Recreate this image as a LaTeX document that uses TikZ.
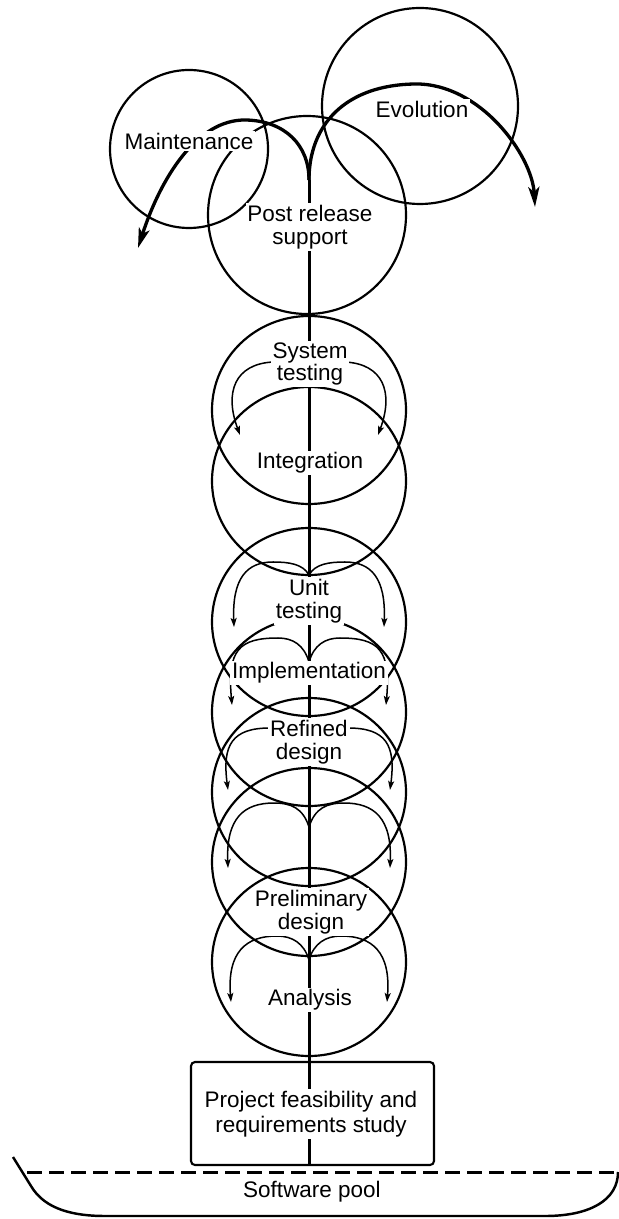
\documentclass[tikz,border=0pt]{standalone}
\usepackage{fontspec}
\setmainfont{Liberation Sans}
\usetikzlibrary{arrows.meta}

\begin{document}
\begin{tikzpicture}[
  ring/.style={line width=0.62pt},
  trunk/.style={line width=0.85pt},
  swing/.style={line width=0.94pt, -{Stealth[length=0.2cm,width=0.11cm,inset=0.05cm]}},
  flow/.style={line width=0.43pt, -{Stealth[length=0.09cm,width=0.06cm,inset=0.02cm]}},
  lbl/.style={font=\fontsize{6.4}{6.5}\selectfont, align=center, fill=white, inner sep=0.5pt},
]
\useasboundingbox (0,0) rectangle (6.19,-12.19);

%%% circles
\draw[ring] (1.89,-1.49) circle (0.79);
\draw[ring] (4.20,-1.06) circle (0.98);
\draw[ring] (3.07,-2.15) circle (0.99);
\foreach \y in {4.10,4.81,6.22,7.12,7.92,8.62,9.62}
  \draw[ring] (3.09,-\y) ellipse [x radius=0.97, y radius=0.94];

%% trunk
\coordinate (fork) at (3.09,-1.80);
\coordinate (base) at (3.09,-11.65);
\draw[trunk] (fork) -- (base);

%% top arrows
\draw[swing] (fork) .. controls (3.09,-1.45) and (2.85,-1.21) .. (2.46,-1.20)
  .. controls (1.96,-1.19) and (1.60,-1.80) .. (1.38,-2.48);
\draw[swing] (fork) .. controls (3.09,-1.25) and (3.45,-0.85) .. (4.15,-0.84)
  .. controls (4.80,-0.83) and (5.32,-1.55) .. (5.35,-2.07);

%% hearts and side arrows
\foreach \s in {1,-1} {
  \draw[flow, shift={(3.09,0)}, xscale=\s] (-0.36,-3.62) .. controls (-0.74,-3.64) and (-0.85,-3.92) .. (-0.69,-4.35);
  \draw[flow, shift={(3.09,0)}, xscale=\s] (0,-5.75) .. controls (-0.06,-5.64) and (-0.20,-5.62) .. (-0.36,-5.62)
    .. controls (-0.62,-5.62) and (-0.77,-5.78) .. (-0.75,-6.27);
  \draw[flow, shift={(3.09,0)}, xscale=\s] (0,-6.62) .. controls (-0.05,-6.45) and (-0.16,-6.38) .. (-0.31,-6.38)
    .. controls (-0.70,-6.38) and (-0.82,-6.50) .. (-0.77,-7.05);
  \draw[flow, shift={(3.09,0)}, xscale=\s] (-0.39,-7.28) .. controls (-0.77,-7.28) and (-0.87,-7.45) .. (-0.81,-7.90);
  \draw[flow, shift={(3.09,0)}, xscale=\s] (0,-8.27) .. controls (-0.06,-8.08) and (-0.18,-8.03) .. (-0.35,-8.03)
    .. controls (-0.65,-8.03) and (-0.83,-8.18) .. (-0.81,-8.68);
  \draw[flow, shift={(3.09,0)}, xscale=\s] (0,-9.60) .. controls (-0.05,-9.43) and (-0.17,-9.36) .. (-0.32,-9.36)
    .. controls (-0.63,-9.36) and (-0.82,-9.52) .. (-0.78,-10.02);
}

%% labels
\node[lbl] (maint) at (1.89,-1.41) {Maintenance};
\node[lbl] (evol) at (4.22,-1.09) {Evolution};
\node[lbl] (post) at (3.10,-2.27) {Post release\\support};
\node[lbl] (systest) at (3.10,-3.64) {System\\testing};
\node[lbl] (integ) at (3.10,-4.63) {Integration};
\node[lbl] (unittest) at (3.09,-6.01) {Unit\\testing};
\node[lbl] (impl) at (3.09,-6.73) {Implementation};
\node[lbl] (refined) at (3.09,-7.42) {Refined\\design};
\node[lbl] (prelim) at (3.11,-9.12) {Preliminary\\design};
\node[lbl] (analysis) at (3.10,-10.00) {Analysis};

%% study box
\draw[line width=0.6pt, rounded corners=0.04cm] (1.91,-10.62) rectangle (4.34,-11.65);
\node[lbl, font=\fontsize{6.4}{7.1}\selectfont] (study) at (3.11,-11.14) {Project feasibility and\\requirements study};

%% pool
\draw[trunk, dash pattern=on 0.15cm off 0.07cm] (0.27,-11.72) -- (6.19,-11.72);
\draw[line width=0.7pt] (0.13,-11.57) -- (0.31,-11.86) .. controls (0.45,-12.10) and (0.75,-12.16) .. (1.05,-12.16)
  -- (5.45,-12.16) .. controls (5.90,-12.16) and (6.18,-12.00) .. (6.18,-11.72);
\node[font=\fontsize{6.4}{6.5}\selectfont, inner sep=0pt] (pool) at (3.12,-11.92) {Software pool};

\end{tikzpicture}
\end{document}
